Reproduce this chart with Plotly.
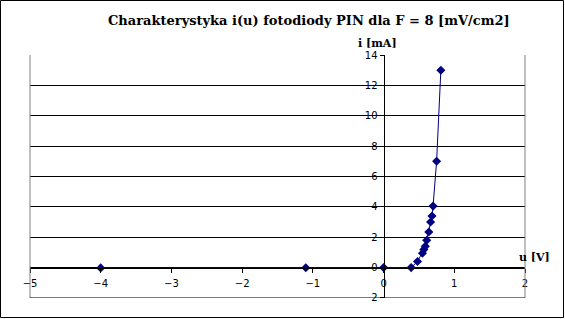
import plotly.graph_objects as go

u_vals = [-4.0, -1.1, 0.0, 0.39, 0.48, 0.55, 0.57, 0.59, 0.61, 0.64, 0.665, 0.685, 0.70, 0.75, 0.81]
i_vals = [-0.02, -0.01, 0.0, 0.0, 0.4, 0.95, 1.2, 1.4, 1.8, 2.35, 3.0, 3.4, 4.05, 7.0, 13.0]

x_ticks = [-5, -4, -3, -2, -1, 0, 1, 2]
y_ticks = [-2, 0, 2, 4, 6, 8, 10, 12, 14]
y_ticktext = ["2", "0", "2", "4", "6", "8", "10", "12", "14"]

title_text = "Charakterystyka i(u) fotodiody PIN dla F = 8 [mV/cm2]"
x_title = "u [V]"
y_title = "i [mA]"

W, H = 565, 319
ml, mr, mt, mb = 30, 40, 55, 21
pw, ph = W - ml - mr, H - mt - mb

xr = [-5, 2]
yr = [-2.0005, 14.0005]

fig = go.Figure()
fig.add_trace(go.Scatter(
    x=u_vals, y=i_vals, mode="lines+markers",
    line=dict(color="#000080", width=1),
    marker=dict(symbol="diamond", size=7, color="#000080"),
    showlegend=False,
))

xpos = (0 - yr[0]) / (yr[1] - yr[0])
ypos = (0 - xr[0]) / (xr[1] - xr[0])

fig.update_layout(
    width=W, height=H,
    margin=dict(l=ml, r=mr, t=mt, b=mb),
    paper_bgcolor="white", plot_bgcolor="white",
    font=dict(family="DejaVu Sans", size=10, color="black"),
    xaxis=dict(range=xr, tickvals=x_ticks, showgrid=False, zeroline=False,
               anchor="free", position=xpos, showline=True, linecolor="black", linewidth=1,
               ticks="outside", ticklen=4, tickcolor="black", tickfont=dict(size=10),
               ticklabelstandoff=2),
    yaxis=dict(range=yr, tickvals=y_ticks, ticktext=y_ticktext, showgrid=True,
               gridcolor="black", gridwidth=1, zeroline=False,
               anchor="free", position=ypos, showline=True, linecolor="black", linewidth=1,
               ticks="outside", ticklen=4, tickcolor="black", tickfont=dict(size=10)),
)

# plot area side borders
fig.add_shape(type="line", xref="paper", yref="paper", x0=0, x1=0, y0=0, y1=1,
              line=dict(color="#808080", width=1))
fig.add_shape(type="line", xref="paper", yref="paper", x0=1, x1=1, y0=0, y1=1,
              line=dict(color="#808080", width=1))
# bottom line of plot area
fig.add_shape(type="line", xref="paper", yref="y", x0=0, x1=1, y0=-2, y1=-2,
              line=dict(color="black", width=1))
# outer border
fig.add_shape(type="rect", xref="paper", yref="paper",
              x0=(0.5 - ml) / pw, x1=(W - 1.5 - ml) / pw,
              y0=-(mb - 1.5) / ph, y1=1 + (mt - 0.5) / ph,
              line=dict(color="black", width=1))

def px_x(p):
    return (p - ml) / pw

def px_y(p):
    return 1 - (p - mt) / ph

fig.add_annotation(text="<b>" + title_text + "</b>", xref="paper", yref="paper",
                   x=px_x(309), y=px_y(20), xanchor="center", yanchor="middle",
                   showarrow=False, font=dict(family="DejaVu Serif", size=13, color="black"))
fig.add_annotation(text="<b>" + y_title + "</b>", xref="paper", yref="paper",
                   x=px_x(377), y=px_y(43), xanchor="center", yanchor="middle",
                   showarrow=False, font=dict(family="DejaVu Serif", size=11, color="black"))
fig.add_annotation(text="<b>" + x_title + "</b>", xref="paper", yref="paper",
                   x=px_x(534), y=px_y(257), xanchor="center", yanchor="middle",
                   showarrow=False, font=dict(family="DejaVu Serif", size=11, color="black"))

fig.write_html("out.html")
